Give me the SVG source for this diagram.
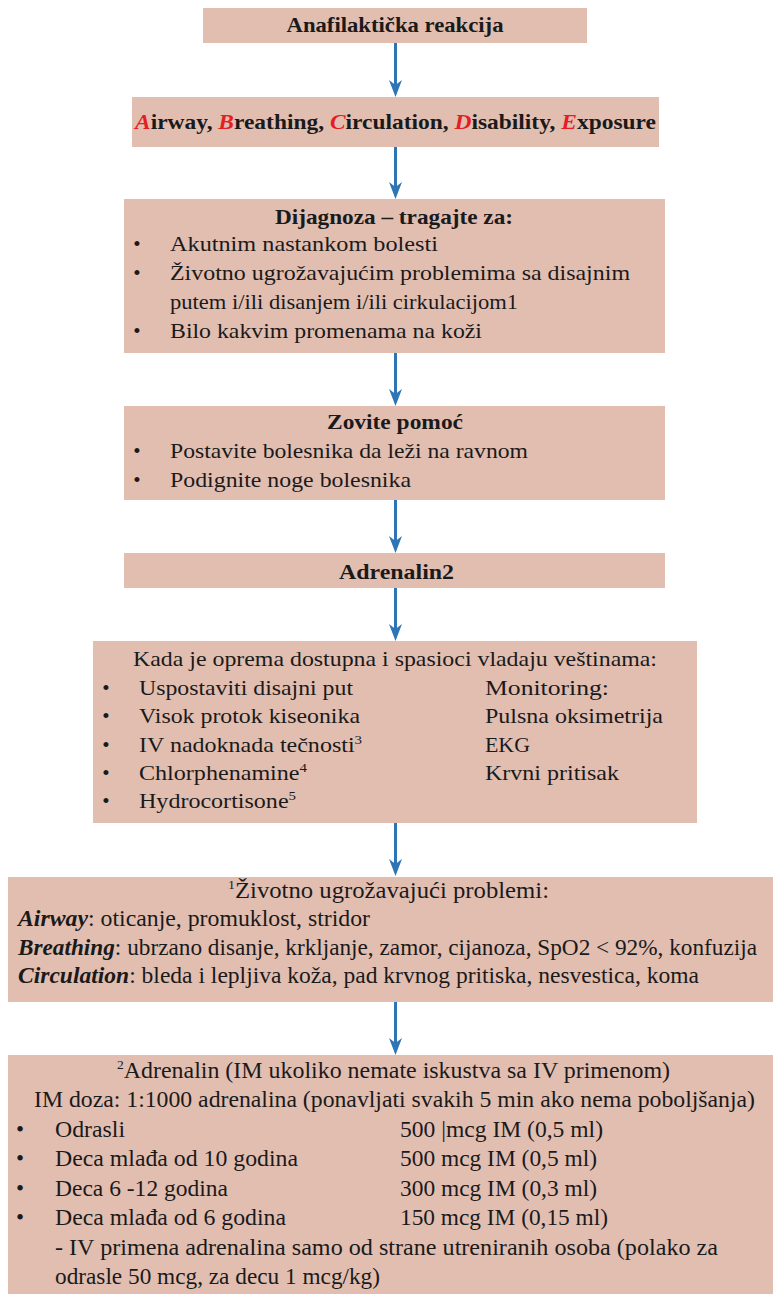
<svg xmlns="http://www.w3.org/2000/svg" width="773" height="1294" viewBox="0 0 773 1294">
<style>
.box{fill:#E2BEB1;stroke:none}
text{font-family:"Liberation Serif","Times New Roman",serif;fill:#1a1a1a}
.t{font-size:21px}
.c{font-size:23px}
.b{font-weight:bold}
.mid{text-anchor:middle}
.r{fill:#E31E24;font-style:italic}
.bi{font-weight:bold;font-style:italic}
.sup{font-size:13px}
.conn{stroke:#2E75B6;stroke-width:3;fill:none}
</style>
<defs>
<marker id="ah" markerUnits="userSpaceOnUse" markerWidth="18" markerHeight="14" refX="5" refY="6.5" orient="auto">
<path d="M0,0 L17,6.5 L0,13 L5,6.5 Z" fill="#2E75B6"/>
</marker>
</defs>

<g id="connectors">
<line class="conn" x1="395.5" y1="43" x2="395.5" y2="85" marker-end="url(#ah)"/>
<line class="conn" x1="395.5" y1="147" x2="395.5" y2="187" marker-end="url(#ah)"/>
<line class="conn" x1="395.5" y1="353" x2="395.5" y2="394" marker-end="url(#ah)"/>
<line class="conn" x1="395.5" y1="500" x2="395.5" y2="541" marker-end="url(#ah)"/>
<line class="conn" x1="395.5" y1="588" x2="395.5" y2="629" marker-end="url(#ah)"/>
<line class="conn" x1="395.5" y1="823" x2="395.5" y2="864" marker-end="url(#ah)"/>
<line class="conn" x1="395.5" y1="1002" x2="395.5" y2="1043" marker-end="url(#ah)"/>
</g>

<g id="n1">
<rect class="box" x="203" y="8" width="384" height="35"/>
<text class="t b mid" x="395" y="32" textLength="217" lengthAdjust="spacingAndGlyphs">Anafilaktička reakcija</text>
</g>

<g id="n2">
<rect class="box" x="132" y="97" width="527" height="50"/>
<text class="t b" x="135" y="129" textLength="521" lengthAdjust="spacingAndGlyphs"><tspan class="r">A</tspan>irway, <tspan class="r">B</tspan>reathing, <tspan class="r">C</tspan>irculation, <tspan class="r">D</tspan>isability, <tspan class="r">E</tspan>xposure</text>
</g>

<g id="n3">
<rect class="box" x="124" y="199" width="541" height="154"/>
<text class="t b mid" x="394" y="224" textLength="238" lengthAdjust="spacingAndGlyphs">Dijagnoza – tragajte za:</text>
<text class="t mid" x="137" y="251">•</text>
<text class="t" x="170" y="251" textLength="268" lengthAdjust="spacingAndGlyphs">Akutnim nastankom bolesti</text>
<text class="t mid" x="137" y="280">•</text>
<text class="t" x="170" y="280" textLength="460" lengthAdjust="spacingAndGlyphs">Životno ugrožavajućim problemima sa disajnim</text>
<text class="t" x="170" y="309" textLength="348" lengthAdjust="spacingAndGlyphs">putem i/ili disanjem i/ili cirkulacijom1</text>
<text class="t mid" x="137" y="338">•</text>
<text class="t" x="170" y="338" textLength="312" lengthAdjust="spacingAndGlyphs">Bilo kakvim promenama na koži</text>
</g>

<g id="n4">
<rect class="box" x="124" y="406" width="541" height="94"/>
<text class="t b mid" x="395" y="429" textLength="136" lengthAdjust="spacingAndGlyphs">Zovite pomoć</text>
<text class="t mid" x="137" y="458">•</text>
<text class="t" x="170" y="458" textLength="358" lengthAdjust="spacingAndGlyphs">Postavite bolesnika da leži na ravnom</text>
<text class="t mid" x="137" y="487">•</text>
<text class="t" x="170" y="487" textLength="241" lengthAdjust="spacingAndGlyphs">Podignite noge bolesnika</text>
</g>

<g id="n5">
<rect class="box" x="124" y="553" width="541" height="35"/>
<text class="t b mid" x="396.5" y="579" textLength="115" lengthAdjust="spacingAndGlyphs">Adrenalin2</text>
</g>

<g id="n6">
<rect class="box" x="93" y="641" width="604" height="182"/>
<text class="t" x="133" y="666" textLength="524" lengthAdjust="spacingAndGlyphs">Kada je oprema dostupna i spasioci vladaju veštinama:</text>
<text class="t mid" x="106" y="695">•</text>
<text class="t" x="139" y="695" textLength="214" lengthAdjust="spacingAndGlyphs">Uspostaviti disajni put</text>
<text class="t" x="485" y="695" textLength="124" lengthAdjust="spacingAndGlyphs">Monitoring:</text>
<text class="t mid" x="106" y="723">•</text>
<text class="t" x="139" y="723" textLength="221" lengthAdjust="spacingAndGlyphs">Visok protok kiseonika</text>
<text class="t" x="485" y="723" textLength="178" lengthAdjust="spacingAndGlyphs">Pulsna oksimetrija</text>
<text class="t mid" x="106" y="752">•</text>
<text class="t" x="139" y="752" textLength="223" lengthAdjust="spacingAndGlyphs">IV nadoknada tečnosti<tspan class="sup" dy="-8">3</tspan></text>
<text class="t" x="485" y="752" textLength="45" lengthAdjust="spacingAndGlyphs">EKG</text>
<text class="t mid" x="106" y="780">•</text>
<text class="t" x="139" y="780" textLength="168" lengthAdjust="spacingAndGlyphs">Chlorphenamine<tspan class="sup" dy="-8">4</tspan></text>
<text class="t" x="485" y="780" textLength="134" lengthAdjust="spacingAndGlyphs">Krvni pritisak</text>
<text class="t mid" x="106" y="808">•</text>
<text class="t" x="139" y="808" textLength="157" lengthAdjust="spacingAndGlyphs">Hydrocortisone<tspan class="sup" dy="-8">5</tspan></text>
</g>

<g id="n7">
<rect class="box" x="8" y="877" width="765" height="125"/>
<text class="c" x="228" y="898" textLength="321" lengthAdjust="spacingAndGlyphs"><tspan class="sup" dy="-9">1</tspan><tspan dy="9">Životno ugrožavajući problemi:</tspan></text>
<text class="c" x="18" y="926" textLength="352" lengthAdjust="spacingAndGlyphs"><tspan class="bi">Airway</tspan>: oticanje, promuklost, stridor</text>
<text class="c" x="18" y="955" textLength="739" lengthAdjust="spacingAndGlyphs"><tspan class="bi">Breathing</tspan>: ubrzano disanje, krkljanje, zamor, cijanoza, SpO2 &lt; 92%, konfuzija</text>
<text class="c" x="18" y="983" textLength="681" lengthAdjust="spacingAndGlyphs"><tspan class="bi">Circulation</tspan>: bleda i lepljiva koža, pad krvnog pritiska, nesvestica, koma</text>
</g>

<g id="n8">
<rect class="box" x="8" y="1055" width="765" height="239"/>
<text class="c" x="117" y="1078" textLength="553" lengthAdjust="spacingAndGlyphs"><tspan class="sup" dy="-9">2</tspan><tspan dy="9">Adrenalin (IM ukoliko nemate iskustva sa IV primenom)</tspan></text>
<text class="c" x="34" y="1107" textLength="721" lengthAdjust="spacingAndGlyphs">IM doza: 1:1000 adrenalina (ponavljati svakih 5 min ako nema poboljšanja)</text>
<text class="c mid" x="20" y="1137">•</text>
<text class="c" x="55" y="1137" textLength="70" lengthAdjust="spacingAndGlyphs">Odrasli</text>
<text class="c" x="400" y="1137" textLength="203" lengthAdjust="spacingAndGlyphs">500 |mcg IM (0,5 ml)</text>
<text class="c mid" x="20" y="1166">•</text>
<text class="c" x="55" y="1166" textLength="243" lengthAdjust="spacingAndGlyphs">Deca mlađa od 10 godina</text>
<text class="c" x="400" y="1166" textLength="197" lengthAdjust="spacingAndGlyphs">500 mcg IM (0,5 ml)</text>
<text class="c mid" x="20" y="1196">•</text>
<text class="c" x="55" y="1196" textLength="173" lengthAdjust="spacingAndGlyphs">Deca 6 -12 godina</text>
<text class="c" x="400" y="1196" textLength="197" lengthAdjust="spacingAndGlyphs">300 mcg IM (0,3 ml)</text>
<text class="c mid" x="20" y="1225">•</text>
<text class="c" x="55" y="1225" textLength="231" lengthAdjust="spacingAndGlyphs">Deca mlađa od 6 godina</text>
<text class="c" x="400" y="1225" textLength="208" lengthAdjust="spacingAndGlyphs">150 mcg IM (0,15 ml)</text>
<text class="c" x="55" y="1255" textLength="663" lengthAdjust="spacingAndGlyphs">- IV primena adrenalina samo od strane utreniranih osoba (polako za</text>
<text class="c" x="55" y="1284" textLength="325" lengthAdjust="spacingAndGlyphs">odrasle 50 mcg, za decu 1 mcg/kg)</text>
</g>
</svg>
